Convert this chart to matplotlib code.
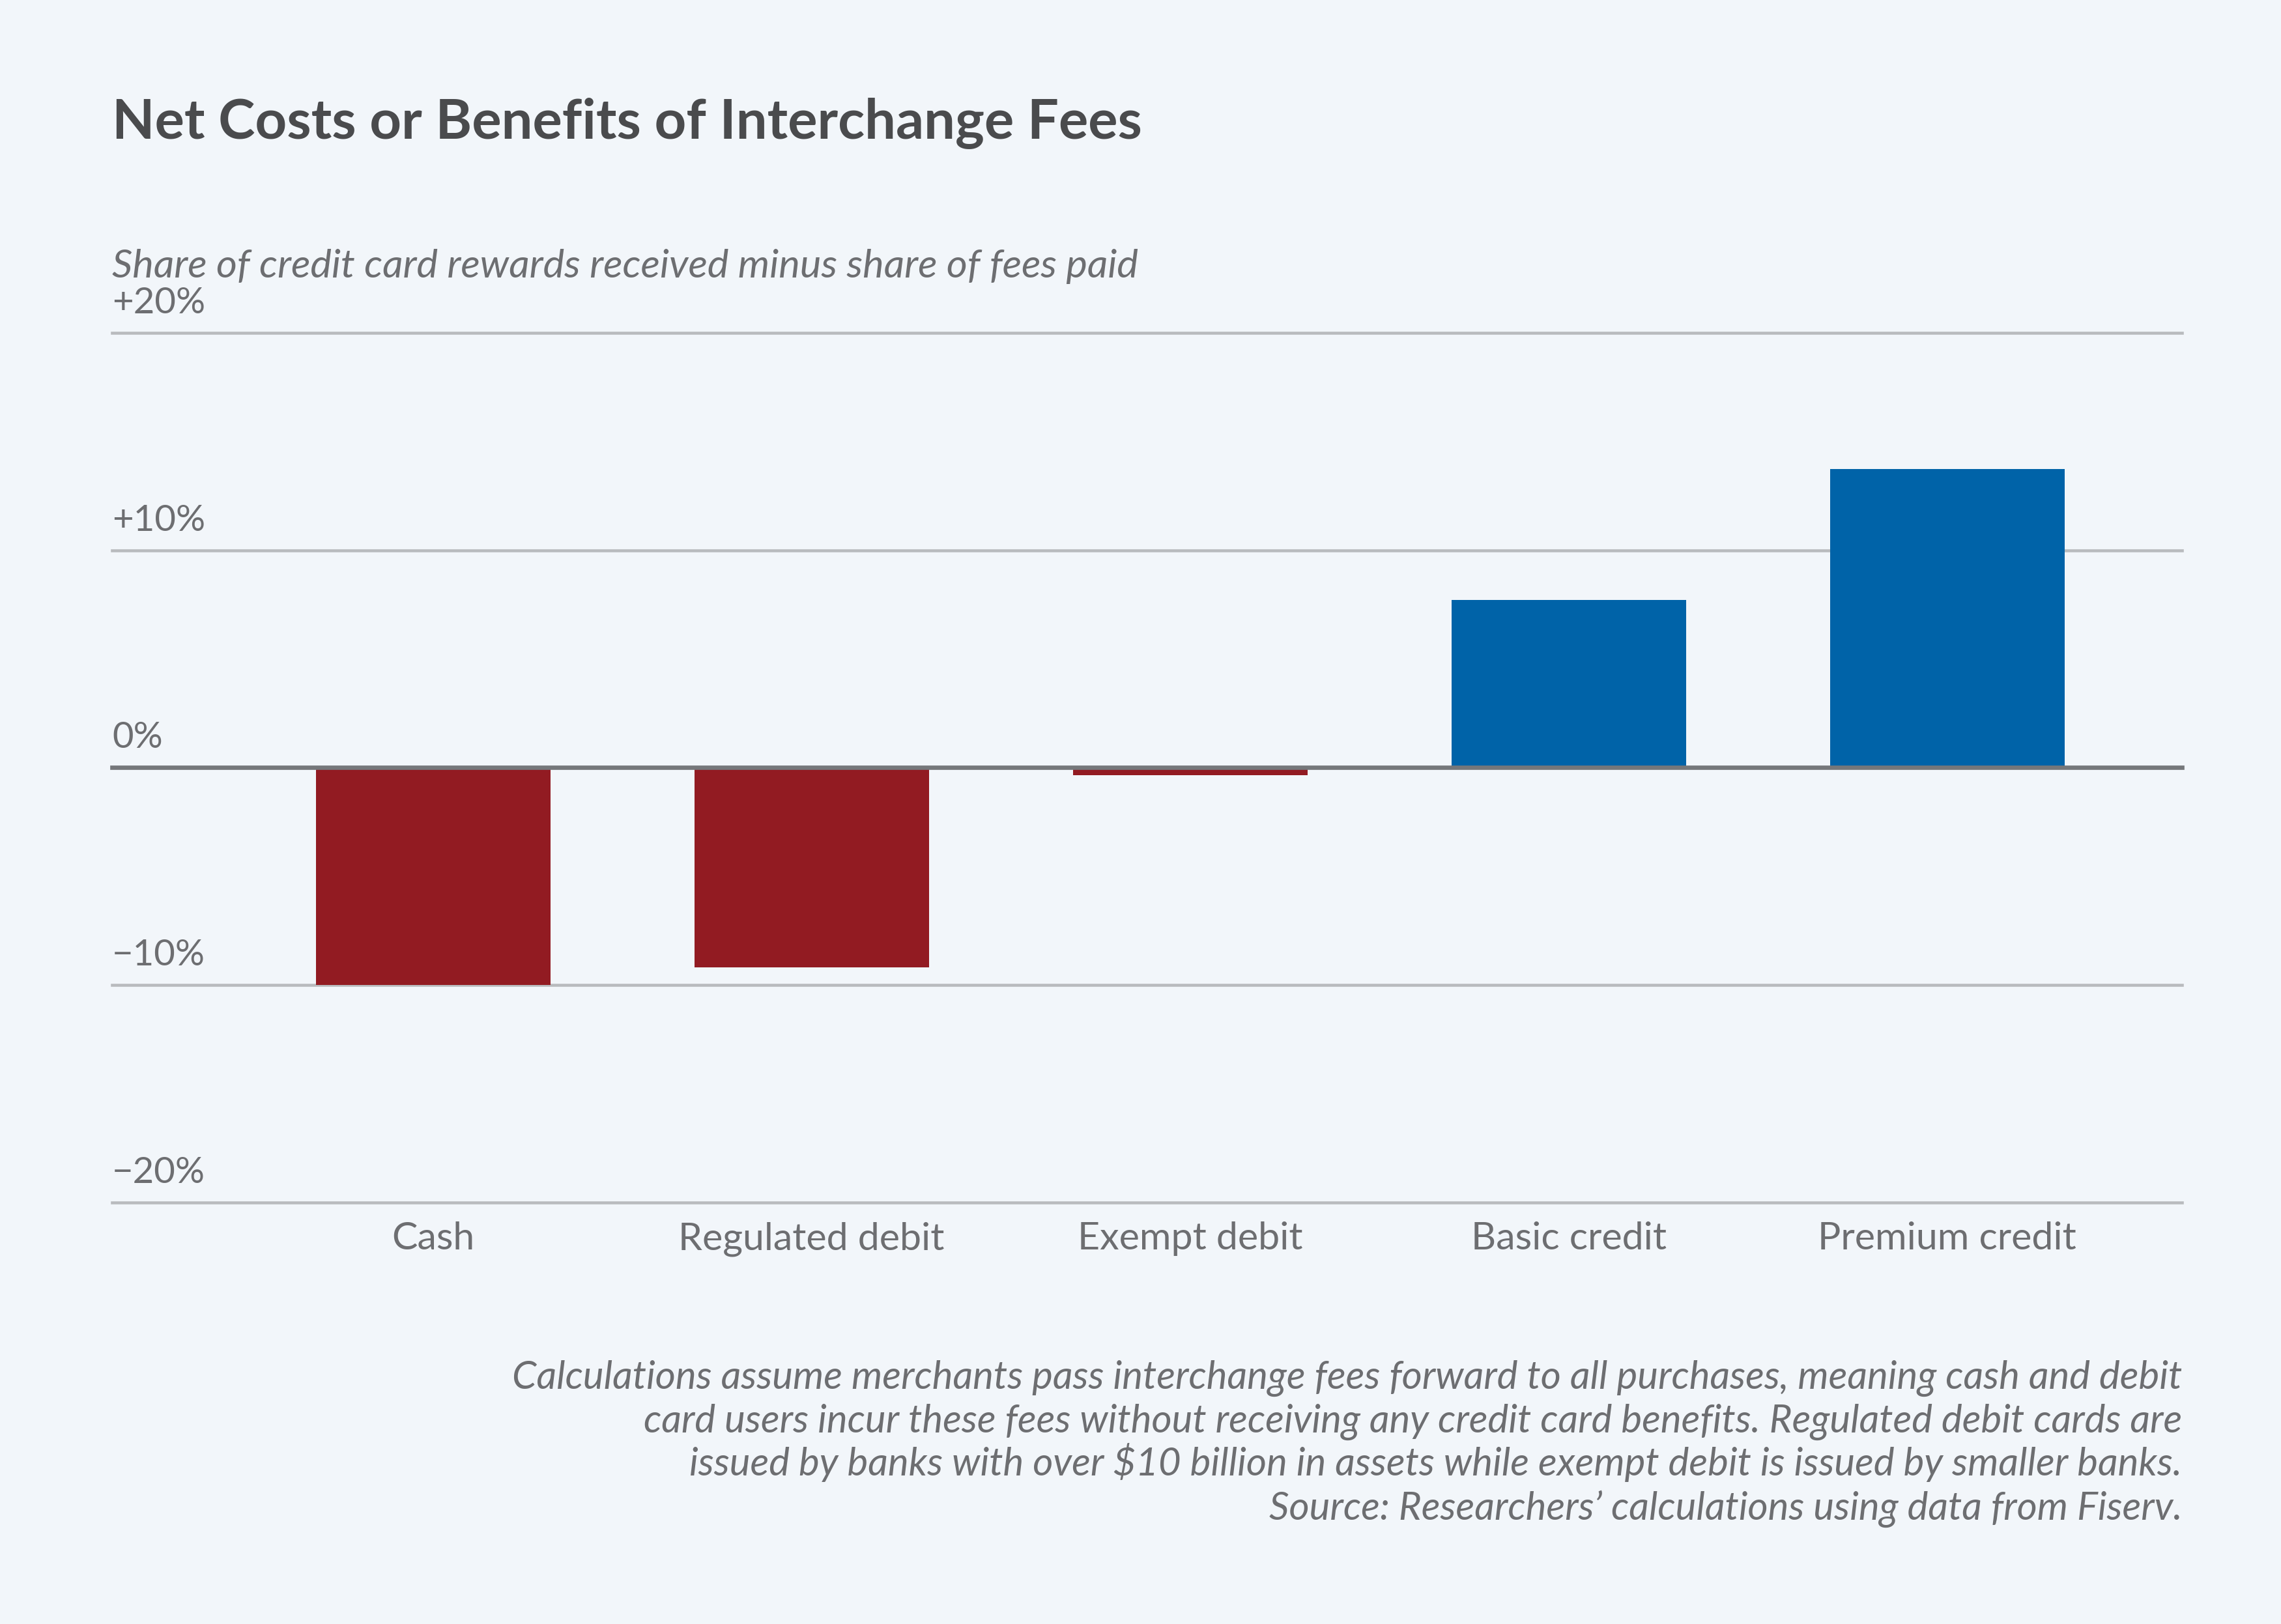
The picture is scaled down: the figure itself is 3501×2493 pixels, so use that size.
import matplotlib.pyplot as plt

categories = ["Cash", "Regulated debit", "Exempt debit", "Basic credit", "Premium credit"]
values = [-10.0, -9.2, -0.35, 7.7, 13.75]
y_ticks = [20, 10, 0, -10, -20]
y_tick_labels = ["+20%", "+10%", "0%", "\u221210%", "\u221220%"]
notes = [
    "Calculations assume merchants pass interchange fees forward to all purchases, meaning cash and debit",
    "card users incur these fees without receiving any credit card benefits. Regulated debit cards are",
    "issued by banks with over $10 billion in assets while exempt debit is issued by smaller banks.",
    "Source: Researchers\u2019 calculations using data from Fiserv.",
]

BG = "#f2f6fa"
RED = "#921b22"
BLUE = "#0063a8"
TEXT = "#6d6e71"

plt.rcParams['font.family'] = ['Lato', 'DejaVu Sans']

fig = plt.figure(figsize=(11.67, 8.3102), dpi=300, facecolor=BG)
ax = fig.add_axes([0.0491, 0.2596, 0.9075, 0.5354])
ax.set_facecolor(BG)

# gridlines
for v in y_ticks:
    ax.axhline(v, color="#75777a" if v == 0 else "#b9bbbe",
               lw=1.6 if v == 0 else 1.1, zorder=1 if v != 0 else 3, clip_on=False)

colors = [RED if v < 0 else BLUE for v in values]
ax.bar(range(len(categories)), values, width=0.62, color=colors, zorder=2)

# tick labels sit above gridlines
for v, lab in zip(y_ticks, y_tick_labels):
    ax.text(0, v + 0.6, lab, transform=ax.get_yaxis_transform(),
            ha="left", va="bottom", fontsize=13.5, color=TEXT)

ax.set_xlim(-0.848, 4.62)
ax.set_ylim(-20, 20)
ax.set_yticks([])
ax.set_xticks(range(len(categories)))
ax.set_xticklabels(categories, fontsize=14.2, color=TEXT)
ax.tick_params(axis="x", length=0, pad=7)
for s in ax.spines.values():
    s.set_visible(False)

fig.text(0.0491, 0.915, "Net Costs or Benefits of Interchange Fees",
         fontsize=20.4, fontweight="bold", color="#4a4b4d", va="baseline")
fig.text(0.0491, 0.829, "Share of credit card rewards received minus share of fees paid",
         fontsize=14.75, style="italic", color=TEXT, va="baseline")

for i, line in enumerate(notes):
    fig.text(0.9566, 1 - (955 + 30 * i) / 1117, line, fontsize=14.4,
             style="italic", color=TEXT, ha="right", va="baseline")

fig.savefig("out.png", dpi=300, facecolor=BG)
